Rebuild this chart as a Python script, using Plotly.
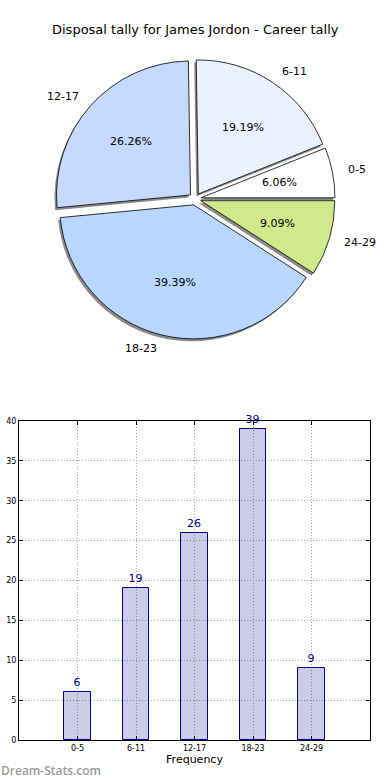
import math
import plotly.graph_objects as go

# ---- data ----
categories = ["0-5", "6-11", "12-17", "18-23", "24-29"]
counts = [6, 19, 26, 39, 9]
pie_colors = ["#FFFFFF", "#EBF2FF", "#C5D9FF", "#B7D7FF", "#CFEA8A"]
y_ticks = [0, 5, 10, 15, 20, 25, 30, 35, 40]
title_text = "Disposal tally for James Jordon - Career tally"

W, H = 390, 780
FONT = "DejaVu Sans"

# pie geometry (pixels)
cx, cy = 195, 199
pull = 0.045
r = 134
half = r * (1 + pull)
total = sum(counts)
# plotly's counterclockwise pies start the first slice clockwise of 'rotation'
rot = 90 - 360 * counts[0] / total

def px_dom_x(a, b):
    return [a / W, b / W]

def px_dom_y(top, bottom):
    return [1 - bottom / H, 1 - top / H]

fig = go.Figure()

# shadow pie
sdx, sdy = -2, 2.5
fig.add_trace(go.Pie(
    labels=categories, values=counts, sort=False, direction="counterclockwise",
    rotation=rot, pull=[pull] * len(counts),
    marker=dict(colors=["rgba(90,90,90,0.7)"] * len(counts), line=dict(width=0)),
    textinfo="none", hoverinfo="skip", showlegend=False,
    domain=dict(x=px_dom_x(cx - half + sdx, cx + half + sdx),
                y=px_dom_y(cy - half + sdy, cy + half + sdy)),
))
# main pie
fig.add_trace(go.Pie(
    labels=categories, values=counts, sort=False, direction="counterclockwise",
    rotation=rot, pull=[pull] * len(counts),
    marker=dict(colors=pie_colors, line=dict(color="#000000", width=0.8)),
    textinfo="none", hoverinfo="skip", showlegend=False,
    domain=dict(x=px_dom_x(cx - half, cx + half), y=px_dom_y(cy - half, cy + half)),
))

ann = []
start = 0.0
for cat, v in zip(categories, counts):
    frac = v / total
    mid = (start + frac / 2) * 2 * math.pi
    start += frac
    c, s = math.cos(mid), math.sin(mid)
    ox, oy = cx + pull * r * c, cy - pull * r * s
    # percent label
    px_, py_ = ox + 0.6 * r * c, oy - 0.6 * r * s
    ann.append(dict(x=px_ / W, y=1 - py_ / H, xref="paper", yref="paper",
                    text=f"{frac*100:.2f}%", showarrow=False,
                    xanchor="center", yanchor="middle",
                    font=dict(family=FONT, size=11, color="#000")))
    lx, ly = ox + 1.1 * r * c, oy - 1.1 * r * s
    ann.append(dict(x=lx / W, y=1 - ly / H, xref="paper", yref="paper",
                    text=cat, showarrow=False,
                    xanchor="left" if c > 0 else "right", yanchor="middle",
                    font=dict(family=FONT, size=11, color="#000")))

# ---- bar chart ----
xs = list(range(len(categories)))
fig.add_trace(go.Bar(
    x=xs, y=counts, width=0.45,
    marker=dict(color="rgba(0,0,128,0.2)", line=dict(color="#000080", width=1)),
    text=[str(v) for v in counts], textposition="outside", cliponaxis=False,
    constraintext="none",
    textfont=dict(family=FONT, size=11, color="#00008B"),
    hoverinfo="skip", showlegend=False, xaxis="x", yaxis="y",
))

ann.append(dict(x=0.5, y=1 - 30 / H, xref="paper", yref="paper",
                text=title_text, showarrow=False, xanchor="center", yanchor="middle",
                font=dict(family=FONT, size=13, color="#000")))
ann.append(dict(x=0.0, y=1 - 770 / H, xref="paper", yref="paper",
                text="Dream-Stats.com", showarrow=False, xanchor="left", yanchor="middle",
                xshift=-1,
                font=dict(family="Open Sans", size=12, color="#999999", weight=600)))

grid = dict(showgrid=True, gridcolor="#a8a8a8", griddash="1px,2px", gridwidth=1)

fig.update_layout(
    width=W, height=H, autosize=False,
    margin=dict(l=0, r=0, t=0, b=0, pad=0),
    paper_bgcolor="white", plot_bgcolor="white",
    annotations=ann,
    bargap=0,
    xaxis=dict(domain=px_dom_x(19, 370), range=[-1, 5], automargin=False,
               tickvals=xs, ticktext=categories,
               tickfont=dict(family=FONT, size=8, color="#000"),
               showline=True, linecolor="#000", linewidth=1, mirror="ticks",
               ticks="inside", ticklen=4, tickcolor="#000",
               zeroline=False, fixedrange=True,
               title=dict(text="Frequency", font=dict(family=FONT, size=11, color="#000"),
                          standoff=0),
               **grid),
    yaxis=dict(domain=px_dom_y(421, 740), range=[0, 40], automargin=False,
               tickvals=y_ticks,
               tickfont=dict(family=FONT, size=8, color="#000"),
               showline=True, linecolor="#000", linewidth=1, mirror="ticks",
               ticks="inside", ticklen=4, tickcolor="#000",
               zeroline=False, fixedrange=True,
               **grid),
)

fig.write_html(
    "out.html",
    config={"displayModeBar": False, "responsive": False},
    post_script="document.body.style.margin='0';document.body.style.overflow='hidden';",
)
